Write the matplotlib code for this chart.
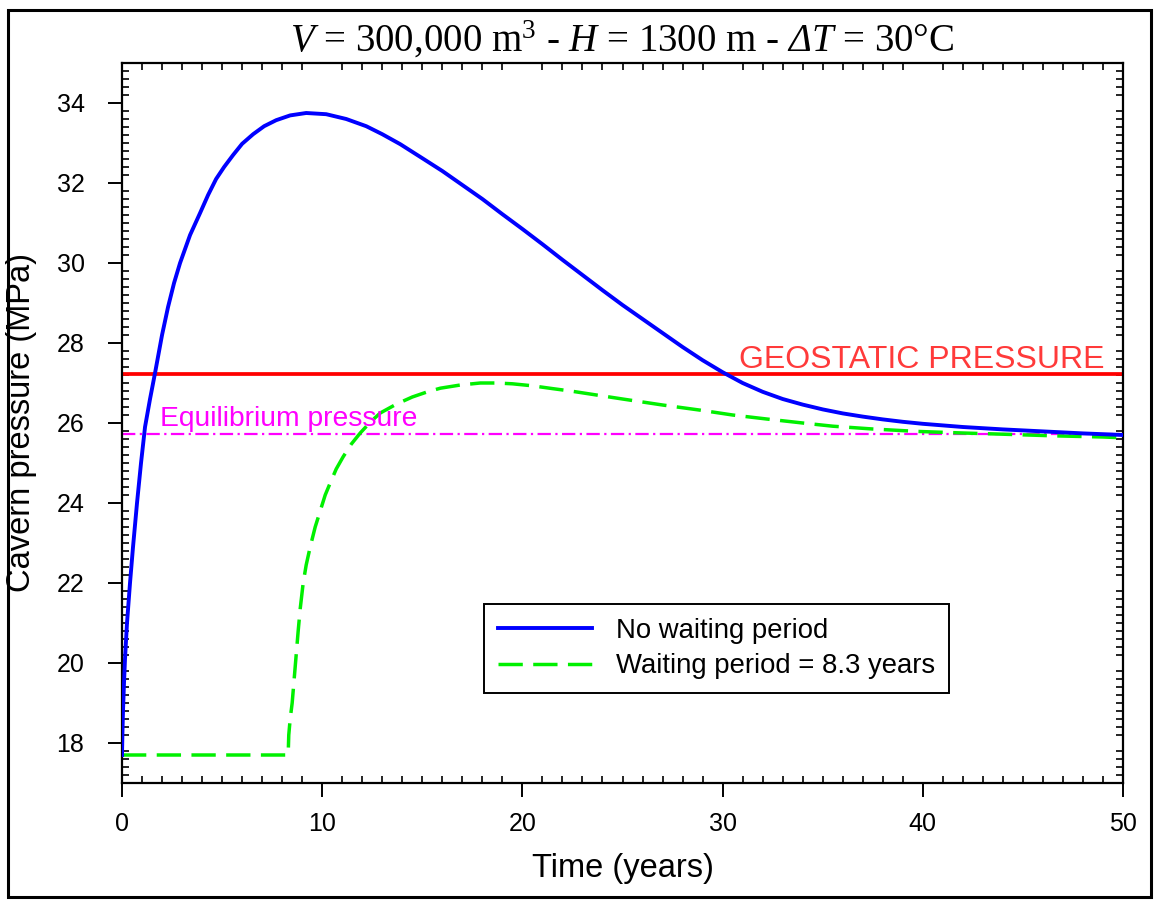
import matplotlib
matplotlib.use("Agg")
import matplotlib.pyplot as plt
from matplotlib.ticker import MultipleLocator
from matplotlib.patches import Rectangle

# ---- data ----
t_nowait = [0, 0.02, 0.05, 0.1, 0.15, 0.25, 0.4, 0.55, 0.75, 0.95, 1.15, 1.4, 1.65, 2.0,
            2.3, 2.6, 2.9, 3.4, 3.9, 4.3, 4.7, 5.1, 5.55, 6.0, 6.55, 7.1, 7.7, 8.4,
            9.2, 10.2, 11.2, 12.2, 13.0, 13.9, 15.0, 16.0, 17.0, 18.0, 19.0, 20.0,
            21.0, 22.0, 23.0, 24.0, 25.0, 26.0, 27.0, 28.0, 29.0, 30.0, 31.0, 32.0,
            33.0, 34.0, 35.0, 36.0, 37.0, 38.0, 39.0, 40.0, 42.0, 44.0, 46.0, 48.0, 50.0]
p_nowait = [17.7, 18.2, 18.8, 19.5, 20.1, 21.0, 22.0, 22.9, 24.0, 25.0, 25.9, 26.6, 27.25, 28.2,
            28.9, 29.5, 30.0, 30.7, 31.25, 31.7, 32.1, 32.4, 32.7, 32.98, 33.22, 33.42, 33.57, 33.69,
            33.75, 33.72, 33.6, 33.42, 33.22, 32.97, 32.62, 32.3, 31.95, 31.6, 31.22, 30.85,
            30.47, 30.08, 29.7, 29.32, 28.95, 28.6, 28.25, 27.9, 27.57, 27.27, 27.0, 26.78,
            26.6, 26.46, 26.34, 26.24, 26.16, 26.09, 26.03, 25.98, 25.9, 25.84, 25.79, 25.74, 25.7]

t_wait = [0, 8.3, 8.33, 8.4, 8.5, 8.6, 8.7, 8.8, 8.9, 9.05, 9.2, 9.4, 9.65, 9.9, 10.15,
          10.4, 10.7, 11.04, 11.45, 11.9, 12.4, 12.9, 13.7, 14.5, 15.2, 15.9, 16.9, 17.9,
          18.7, 19.5, 20.5, 21.5, 22.4, 23.7, 25.0, 27.0, 28.9, 30.5, 32.2, 34.0, 35.5,
          37.5, 39.7, 42.0, 44.0, 46.5, 49.0, 50.0]
p_wait = [17.7, 17.7, 18.2, 18.6, 19.0, 19.6, 20.2, 20.8, 21.35, 22.0, 22.45, 22.9, 23.4, 23.8, 24.2,
          24.5, 24.85, 25.15, 25.47, 25.75, 26.02, 26.25, 26.47, 26.65, 26.77, 26.87, 26.95, 27.0,
          27.0, 26.98, 26.93, 26.86, 26.8, 26.7, 26.6, 26.45, 26.32, 26.2, 26.1, 26.0, 25.92,
          25.85, 25.79, 25.75, 25.72, 25.68, 25.65, 25.63]

geostatic_p = 27.23
equilibrium_p = 25.73

series_labels = ["No waiting period", "Waiting period = 8.3 years"]
x_ticks = [0, 10, 20, 30, 40, 50]
y_ticks = [18, 20, 22, 24, 26, 28, 30, 32, 34]

plt.rcParams['font.family'] = ['Liberation Sans', 'DejaVu Sans']
plt.rcParams['mathtext.fontset'] = 'custom'
plt.rcParams['mathtext.rm'] = 'Liberation Serif'
plt.rcParams['mathtext.it'] = 'Liberation Serif:italic'
plt.rcParams['mathtext.sf'] = 'Liberation Serif:italic'

fig = plt.figure(figsize=(11.54, 9.0), dpi=100)
ax = fig.add_axes([122/1154, 117/900, 1001/1154, 720/900])

ax.axhline(geostatic_p, color='#ff0000', lw=2.7, zorder=2)
ax.axhline(equilibrium_p, color='#ff00ff', lw=1.6, dashes=(6, 2, 1, 2), zorder=2)
ax.plot(t_nowait, p_nowait, color='#0000ff', lw=2.8, label=series_labels[0], zorder=4)
ax.plot(t_wait, p_wait, color='#00f000', lw=2.5, dashes=(7, 3), label=series_labels[1], zorder=3)

ax.text(49.1, 27.37, "GEOSTATIC PRESSURE", color='#ff3a3a', fontsize=23,
        ha='right', va='baseline')
ax.text(1.9, 25.92, "Equilibrium pressure", color='#ff00ff', fontsize=20.3,
        ha='left', va='baseline')

ax.set_xlim(0, 50)
ax.set_ylim(17, 35)
ax.set_xticks(x_ticks)
ax.set_yticks(y_ticks)
ax.xaxis.set_minor_locator(MultipleLocator(1))
ax.yaxis.set_minor_locator(MultipleLocator(0.2))
ax.tick_params(which='major', direction='out', length=10, width=1.4, labelsize=18,
               top=False, right=False)
ax.tick_params(axis='x', which='major', pad=11)
ax.tick_params(axis='y', which='major', pad=17)
ax.tick_params(which='minor', direction='in', length=5, width=1.2,
               top=True, right=True, bottom=True, left=True)
for s in ax.spines.values():
    s.set_linewidth(1.6)

ax.set_xlabel("Time (years)", fontsize=23.5, labelpad=12)
ax.set_ylabel("Cavern pressure (MPa)", fontsize=23.5)
ax.yaxis.set_label_coords(-0.085, 0.5)

ax.set_title(r"$V$ = 300,000 m$^3$ - $H$ = 1300 m - $\mathsf{ΔT}$ = 30°C",
             fontsize=28, family='Liberation Serif', pad=8)

leg = ax.legend(loc='lower left', bbox_to_anchor=(0.362, 0.125), fontsize=19.8,
                frameon=True, fancybox=False, edgecolor='black', framealpha=1,
                handlelength=3.4, handletextpad=0.9, borderpad=0.5, labelspacing=0.35,
                borderaxespad=0)
leg.get_frame().set_linewidth(1.4)

fig.patches.append(Rectangle((8/1154, 3/900), 1143/1154, 887/900, transform=fig.transFigure,
                             fill=False, edgecolor='black', lw=2.2))

fig.savefig("out.png", dpi=100)
